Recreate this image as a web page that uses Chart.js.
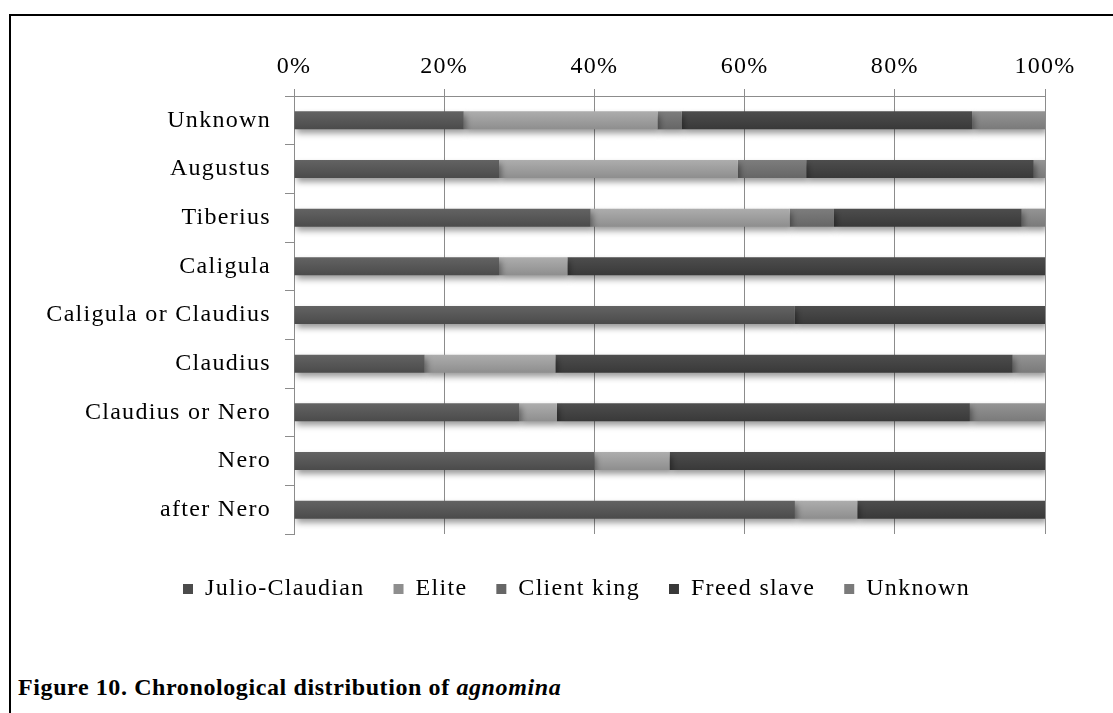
<!DOCTYPE html>
<html>
<head>
<meta charset="utf-8">
<script src="https://cdn.jsdelivr.net/npm/chart.js"></script>
<style>
  body { margin: 0; background: #fff; width: 1113px; height: 713px; overflow: hidden; position: relative; }
  #frame { position: absolute; left: 9px; top: 14px; width: 1200px; height: 800px; border-left: 2px solid #000; border-top: 2px solid #000; }
  #box { position: absolute; left: 0; top: 0; width: 1113px; height: 619px; }
  #caption { position: absolute; left: 18px; top: 674px; font: bold 24px "Liberation Serif", serif; letter-spacing: 0.6px; color: #000; white-space: nowrap; }
</style>
</head>
<body>
<div id="frame"></div>
<div id="box"><canvas id="agnomina"></canvas></div>
<div id="caption">Figure 10. Chronological distribution of <i>agnomina</i></div>
<script>
const categories = ['Unknown', 'Augustus', 'Tiberius', 'Caligula', 'Caligula or Claudius',
  'Claudius', 'Claudius or Nero', 'Nero', 'after Nero'];
const seriesNames = ['Julio-Claudian', 'Elite', 'Client king', 'Freed slave', 'Unknown'];

// percentages
const julioClaudian = [22.6, 27.3, 39.5, 27.3, 66.7, 17.4, 30.0, 40.0, 66.7];
const elite         = [25.8, 31.8, 26.5,  9.1,  0.0, 17.4,  5.0, 10.0,  8.3];
const clientKing    = [ 3.2,  9.1,  5.9,  0.0,  0.0,  0.0,  0.0,  0.0,  0.0];
const freedSlave    = [38.7, 30.3, 25.0, 63.6, 33.3, 60.9, 55.0, 50.0, 25.0];
const unknownStatus = [ 9.7,  1.5,  3.1,  0.0,  0.0,  4.3, 10.0,  0.0,  0.0];

const xTicks = [0, 20, 40, 60, 80, 100];

// [top, bottom] shade of each series
const shades = [
  ['#636363', '#4b4b4b'],
  ['#adadad', '#8e8e8e'],
  ['#7d7d7d', '#666666'],
  ['#4d4d4d', '#393939'],
  ['#949494', '#7a7a7a']
];

const barFill = (i) => (c) => {
  const chart = c.chart;
  const y = chart.scales && chart.scales.y;
  if (!chart.chartArea || !y || c.dataIndex === undefined) return shades[i][0];
  const cy = y.getPixelForValue(c.dataIndex);
  const g = chart.ctx.createLinearGradient(0, cy - 9, 0, cy + 9);
  g.addColorStop(0, shades[i][0]);
  g.addColorStop(1, shades[i][1]);
  return g;
};

const allValues = [julioClaudian, elite, clientKing, freedSlave, unknownStatus];

// the original text is a stretched Times, widen it a little
const spacing = {
  id: 'spacing',
  beforeLayout(chart) { chart.ctx.letterSpacing = '1.3px'; },
  beforeDraw(chart) { chart.ctx.letterSpacing = '1.3px'; }
};

const shadow = {
  id: 'shadow',
  beforeDatasetsDraw(chart) {
    const ctx = chart.ctx;
    ctx.save();
    ctx.shadowColor = 'rgba(0,0,0,0.4)';
    ctx.shadowBlur = 6;
    ctx.shadowOffsetX = 2;
    ctx.shadowOffsetY = 4;
  },
  afterDatasetsDraw(chart) {
    chart.ctx.restore();
  }
};

Chart.defaults.font.family = '"Liberation Serif", "Times New Roman", serif';
Chart.defaults.font.size = 24;
Chart.defaults.color = '#000';

new Chart(document.getElementById('agnomina'), {
  type: 'bar',
  data: {
    labels: categories,
    datasets: seriesNames.map((name, i) => ({
      label: name,
      data: allValues[i],
      xAxisID: 'x',
      yAxisID: 'y',
      backgroundColor: barFill(i),
      borderWidth: 0,
      categoryPercentage: 1,
      barPercentage: 0.37
    }))
  },
  options: {
    indexAxis: 'y',
    responsive: true,
    maintainAspectRatio: false,
    animation: false,
    layout: { padding: { left: 40, right: 0, top: 0, bottom: 8 } },
    plugins: {
      tooltip: { enabled: false },
      legend: {
        position: 'bottom',
        labels: {
          boxWidth: 10,
          boxHeight: 10,
          padding: 29,
          generateLabels(chart) {
            return chart.data.datasets.map((ds, i) => ({
              text: ds.label,
              fillStyle: shades[i][1],
              strokeStyle: shades[i][1],
              fontColor: '#000',
              lineWidth: 0,
              datasetIndex: i,
              hidden: false
            }));
          }
        }
      }
    },
    scales: {
      x: {
        position: 'top',
        stacked: true,
        min: 0,
        max: 100,
        afterBuildTicks(scale) { scale.ticks = xTicks.map(v => ({ value: v })); },
        afterFit(scale) { scale.height = 96; },
        ticks: { padding: 8, callback: v => v + '%' },
        grid: { color: '#8c8c8c', lineWidth: 1, tickLength: 7 },
        border: { color: '#8c8c8c' }
      },
      y: {
        stacked: true,
        afterFit(scale) { scale.width = 254; },
        ticks: { padding: 14 },
        grid: { drawOnChartArea: false, color: '#8c8c8c', tickLength: 9, offset: true },
        border: { color: '#8c8c8c' }
      },
      // empty strips: one keeps the legend clear of the plot, one leaves room right of 100%
      gap: {
        type: 'linear',
        axis: 'x',
        position: 'bottom',
        afterFit(scale) { scale.height = 14; },
        ticks: { display: false },
        grid: { display: false },
        border: { display: false }
      },
      side: {
        type: 'linear',
        axis: 'y',
        position: 'right',
        afterFit(scale) { scale.width = 68; },
        ticks: { display: false },
        grid: { display: false },
        border: { display: false }
      }
    }
  },
  plugins: [spacing, shadow]
});
</script>
</body>
</html>
